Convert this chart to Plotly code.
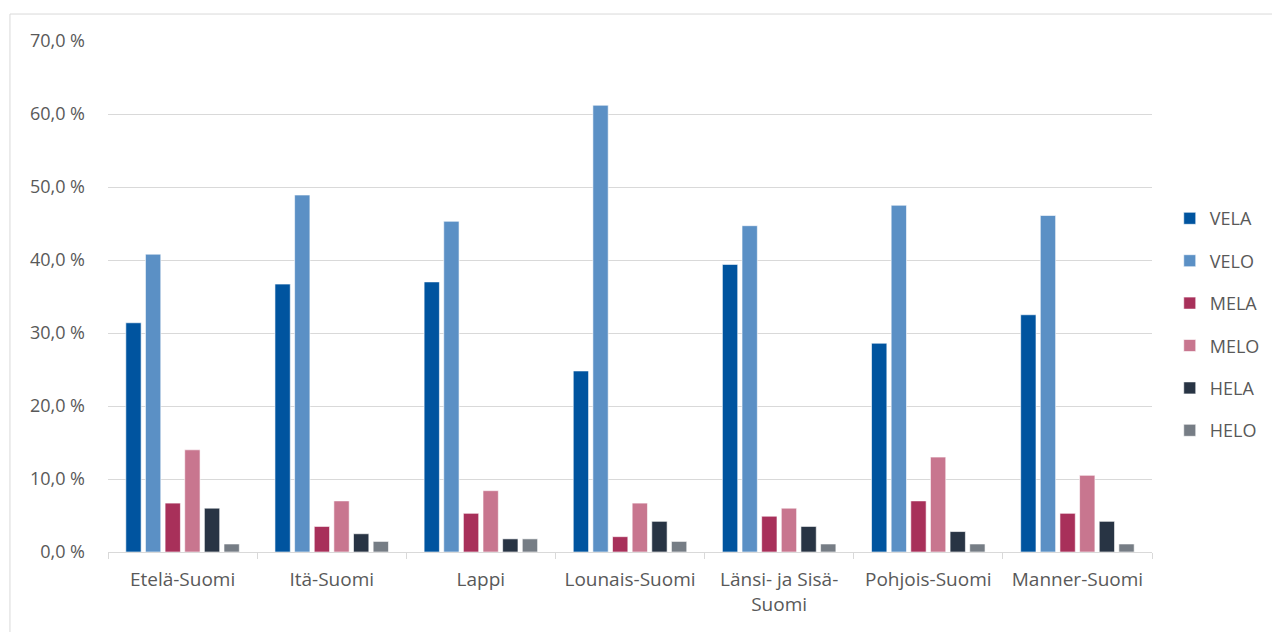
import plotly.graph_objects as go

regions = ["Etelä-Suomi", "Itä-Suomi", "Lappi", "Lounais-Suomi",
           "Länsi- ja Sisä-<br>Suomi", "Pohjois-Suomi", "Manner-Suomi"]

vela = [31.4, 36.7, 37.0, 24.8, 39.4, 28.6, 32.5]
velo = [40.8, 48.9, 45.3, 61.2, 44.7, 47.5, 46.1]
mela = [6.7, 3.5, 5.3, 2.1, 4.9, 7.0, 5.3]
melo = [14.0, 7.0, 8.4, 6.7, 6.0, 13.0, 10.5]
hela = [6.0, 2.5, 1.8, 4.2, 3.5, 2.8, 4.2]
helo = [1.1, 1.45, 1.8, 1.45, 1.1, 1.1, 1.1]

series = [
    ("VELA", vela, "#00549F"),
    ("VELO", velo, "#5B90C5"),
    ("MELA", mela, "#A8305A"),
    ("MELO", melo, "#C8768F"),
    ("HELA", hela, "#283444"),
    ("HELO", helo, "#767D85"),
]

y_ticks = [0, 10, 20, 30, 40, 50, 60, 70]
y_text = ["{:.1f} %".format(v).replace(".", ",") for v in y_ticks]

family = "Open Sans, Liberation Sans, sans-serif"
grey = "#595959"

fig = go.Figure()
for name, vals, col in series:
    fig.add_trace(go.Bar(
        x=regions, y=vals, name=name, legendgroup=name,
        marker=dict(color=col, line=dict(color="white", width=0.6)),
    ))

# page body has an 8px margin, so the figure is 8px smaller than the window
fig.update_layout(
    barmode="group",
    bargap=0.21,
    bargroupgap=0.22,
    width=1272, height=624,
    margin=dict(l=100, r=128, t=33, b=80),
    paper_bgcolor="white",
    plot_bgcolor="white",
    font=dict(family=family, size=18, color=grey),
    legend=dict(
        x=1.017, y=0.445, xanchor="left", yanchor="middle",
        traceorder="grouped", tracegroupgap=16,
        font=dict(family=family, size=18, color=grey),
        itemwidth=30,
    ),
    yaxis=dict(
        range=[0, 70], tickvals=y_ticks, ticktext=y_text,
        showgrid=True, gridcolor="#D9D9D9", gridwidth=1,
        zeroline=False, showline=False, ticks="",
        ticklabelstandoff=22,
        tickfont=dict(size=18, color=grey),
    ),
    xaxis=dict(
        showline=True, linecolor="#D9D9D9", linewidth=1,
        ticks="outside", tickson="boundaries", ticklen=6, tickcolor="#D9D9D9",
        ticklabelstandoff=10,
        tickfont=dict(size=19, color=grey),
    ),
    shapes=[dict(type="rect", xref="paper", yref="paper",
                 x0=-0.0939, x1=1.2, y0=-0.2, y1=1.0528,
                 line=dict(color="#D9D9D9", width=1))],
)

fig.write_html("out.html")
